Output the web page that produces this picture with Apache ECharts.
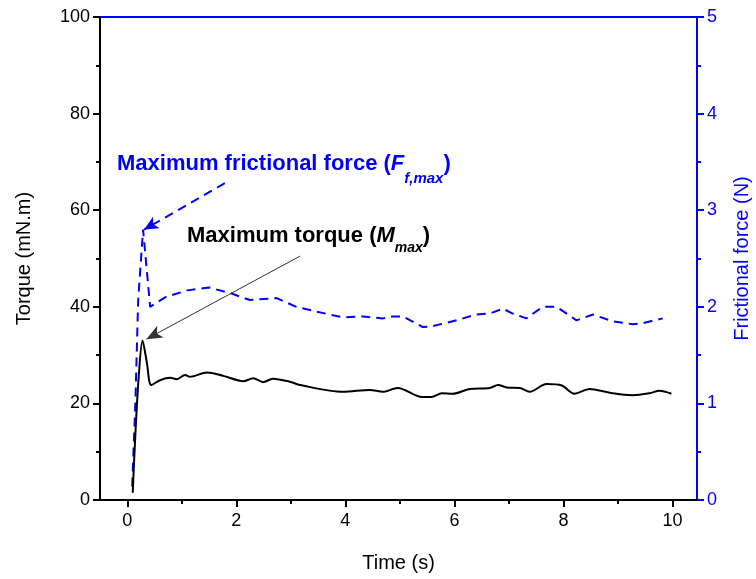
<!DOCTYPE html>
<html>
<head>
<meta charset="utf-8">
<script src="https://cdn.jsdelivr.net/npm/echarts@6/dist/echarts.min.js"></script>
<style>
html, body { margin: 0; padding: 0; background: #fff; }
#chart { width: 756px; height: 579px; }
</style>
</head>
<body>
<div id="chart"></div>
<script>
// torque curve (mN.m)
var torqueTime = [0.1, 0.15, 0.21, 0.28, 0.36, 0.44, 0.6, 0.79, 0.91, 1.06, 1.15, 1.46, 1.76, 2.13, 2.31, 2.49, 2.67, 2.98,
    3.17, 3.96, 4.45, 4.69, 4.96, 5.37, 5.58, 5.77, 5.97, 6.28, 6.65, 6.8, 6.96, 7.2, 7.38, 7.69, 7.97, 8.2, 8.48, 8.85,
    9.27, 9.58, 9.76, 9.98];
var torque = [1.5, 13.9, 25.5, 33, 28.4, 23.8, 24.8, 25.3, 25, 25.9, 25.5, 26.4, 25.7, 24.6, 25.2, 24.4, 25.1, 24.5,
    23.8, 22.4, 22.8, 22.4, 23.2, 21.4, 21.3, 22.1, 22, 23, 23.2, 23.8, 23.3, 23.2, 22.4, 24, 23.7, 22, 23, 22.2,
    21.7, 22.1, 22.6, 22];

// frictional force curve (N)
var forceTime = [0.09, 0.15, 0.2, 0.29, 0.42, 0.7, 1.1, 1.5, 1.9, 2.25, 2.74, 3.1, 3.47, 3.96, 4.33, 4.69, 4.87, 5.06,
    5.42, 5.6, 6.04, 6.4, 6.65, 6.89, 7.07, 7.32, 7.62, 7.87, 8.24, 8.54, 8.9, 9.27, 9.45, 9.82];
var force = [0.14, 1.03, 2.07, 2.8, 2.0, 2.1, 2.17, 2.2, 2.14, 2.07, 2.09, 2.0, 1.95, 1.89, 1.9, 1.88, 1.9, 1.9,
    1.79, 1.8, 1.86, 1.92, 1.93, 1.98, 1.93, 1.88, 2.0, 2.0, 1.86, 1.92, 1.85, 1.82, 1.83, 1.88];

var xMajor = [0, 2, 4, 6, 8, 10];
var xMinor = [1, 3, 5, 7, 9];

// arrow ends, in data units
var torqueArrow = [[3.17, 50.5], [0.35, 33.3]];
var forceArrow = [[1.79, 3.28], [0.31, 2.8]];

var BLUE = '#0000ff';
var FONT = 'Liberation Sans';
var X_MIN = -0.5, X_MAX = 10.45;

function pairs(xs, ys) {
    return xs.map(function (x, i) { return [x, ys[i]]; });
}

var chart = echarts.init(document.getElementById('chart'));

var option = {
    backgroundColor: '#fff',
    animation: false,
    textStyle: { fontFamily: FONT },
    grid: { left: 100, right: 59, top: 17, bottom: 79, containLabel: false, outerBoundsMode: 'none' },
    xAxis: [
        {
            type: 'value', min: X_MIN, max: X_MAX,
            name: 'Time (s)', nameLocation: 'middle', nameGap: 53,
            nameTextStyle: { fontSize: 20, color: '#000', fontFamily: FONT },
            axisLine: { onZero: false, lineStyle: { color: '#000', width: 2 } },
            axisTick: { customValues: xMajor, length: 7, lineStyle: { color: '#000', width: 2 } },
            axisLabel: { customValues: xMajor, fontSize: 18, color: '#000', margin: 12 },
            splitLine: { show: false }
        },
        {
            type: 'value', min: X_MIN, max: X_MAX, position: 'bottom',
            axisLine: { show: false, onZero: false },
            axisTick: { customValues: xMinor, length: 4, lineStyle: { color: '#000', width: 2 } },
            axisLabel: { show: false },
            splitLine: { show: false }
        },
        {
            type: 'value', min: X_MIN, max: X_MAX, position: 'top',
            axisLine: { onZero: false, lineStyle: { color: BLUE, width: 2 } },
            axisTick: { show: false },
            axisLabel: { show: false },
            splitLine: { show: false }
        }
    ],
    yAxis: [
        {
            type: 'value', min: 0, max: 100, interval: 20, position: 'left',
            name: 'Torque (mN.m)', nameLocation: 'middle', nameGap: 66,
            nameTextStyle: { fontSize: 20, color: '#000', fontFamily: FONT },
            axisLine: { show: true, onZero: false, lineStyle: { color: '#000', width: 2 } },
            axisTick: { show: true, length: 7, lineStyle: { color: '#000', width: 2 } },
            minorTick: { show: true, splitNumber: 2, length: 4, lineStyle: { color: '#000', width: 2 } },
            axisLabel: { fontSize: 18, color: '#000', margin: 10 },
            splitLine: { show: false }
        },
        {
            type: 'value', min: 0, max: 5, interval: 1, position: 'right',
            name: 'Frictional force (N)', nameLocation: 'middle', nameGap: 35, nameRotate: 90,
            nameTextStyle: { fontSize: 20, color: BLUE, fontFamily: FONT },
            axisLine: { show: true, onZero: false, lineStyle: { color: BLUE, width: 2 } },
            axisTick: { show: true, length: 7, lineStyle: { color: BLUE, width: 2 } },
            minorTick: { show: true, splitNumber: 2, length: 4, lineStyle: { color: BLUE, width: 2 } },
            axisLabel: { fontSize: 18, color: BLUE, margin: 10 },
            splitLine: { show: false }
        }
    ],
    series: [
        {
            name: 'Frictional force', type: 'line', yAxisIndex: 1,
            data: pairs(forceTime, force),
            showSymbol: false, smooth: false,
            lineStyle: { color: BLUE, width: 2, type: [9, 6] },
            markLine: {
                silent: true, symbol: ['none', 'arrow'], symbolSize: [10, 14],
                label: { show: false },
                lineStyle: { color: BLUE, width: 2, type: [9, 6] },
                data: [[{ coord: forceArrow[0] }, { coord: forceArrow[1] }]]
            },
            z: 2
        },
        {
            name: 'Torque', type: 'line', yAxisIndex: 0,
            data: pairs(torqueTime, torque),
            showSymbol: false, smooth: 0.3,
            lineStyle: { color: '#000', width: 2 },
            markLine: {
                silent: true, symbol: ['none', 'arrow'], symbolSize: [10, 16],
                label: { show: false },
                lineStyle: { color: '#333', width: 1, type: 'solid' },
                data: [[{ coord: torqueArrow[0] }, { coord: torqueArrow[1] }]]
            },
            z: 3
        }
    ],
    graphic: [
        {
            type: 'text', left: 117, top: 153,
            style: {
                text: '{a|Maximum frictional force (}{i|F}{s|f,max}{a|)}',
                rich: {
                    a: { fontSize: 22, fontWeight: 'bold', fill: BLUE, fontFamily: FONT, lineHeight: 26, verticalAlign: 'top' },
                    i: { fontSize: 22, fontWeight: 'bold', fontStyle: 'italic', fill: BLUE, fontFamily: FONT, lineHeight: 26, verticalAlign: 'top' },
                    s: { fontSize: 15, fontWeight: 'bold', fontStyle: 'italic', fill: BLUE, fontFamily: FONT, lineHeight: 15, verticalAlign: 'top', padding: [18, 0, 0, 0] }
                }
            }
        },
        {
            type: 'text', left: 187, top: 225,
            style: {
                text: '{a|Maximum torque (}{i|M}{s|max}{a|)}',
                rich: {
                    a: { fontSize: 22, fontWeight: 'bold', fill: '#000', fontFamily: FONT, lineHeight: 26, verticalAlign: 'top' },
                    i: { fontSize: 22, fontWeight: 'bold', fontStyle: 'italic', fill: '#000', fontFamily: FONT, lineHeight: 26, verticalAlign: 'top' },
                    s: { fontSize: 14, fontWeight: 'bold', fontStyle: 'italic', fill: '#000', fontFamily: FONT, lineHeight: 14, verticalAlign: 'top', padding: [16, 0, 0, 0] }
                }
            }
        }
    ]
};

chart.setOption(option);
</script>
</body>
</html>
